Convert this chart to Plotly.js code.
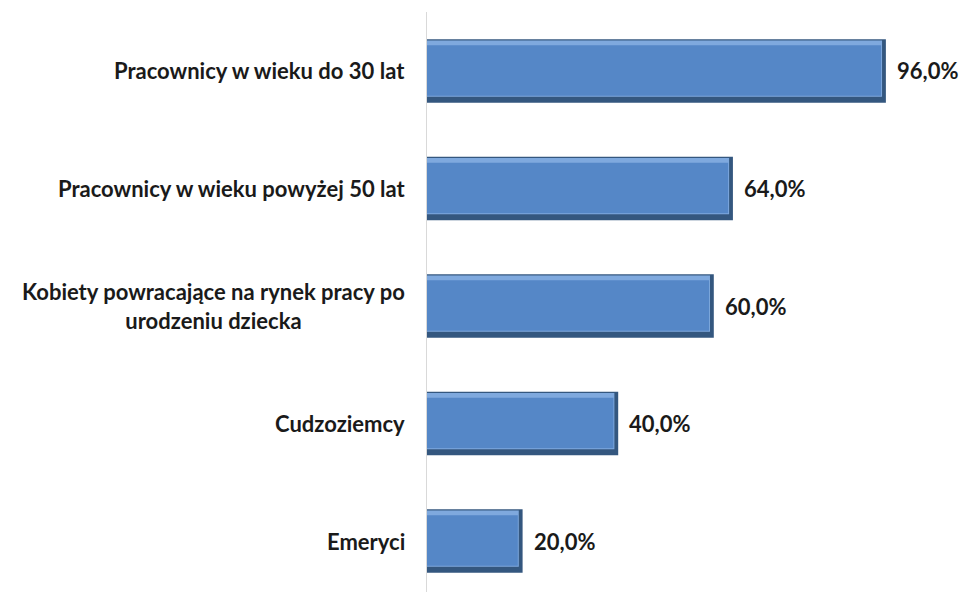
<!DOCTYPE html>
<html>
<head>
<meta charset="utf-8">
<script src="https://cdn.plot.ly/plotly-3.0.1.min.js"></script>
<style>html,body{margin:0;padding:0;background:#fff;}#chart{width:967px;height:592px;}</style>
</head>
<body>
<div id="chart"></div>
<script>
const categories = [
  "Emeryci",
  "Cudzoziemcy",
  "Kobiety powracające na rynek pracy po<br>urodzeniu dziecka",
  "Pracownicy w wieku powyżej 50 lat",
  "Pracownicy w wieku do 30 lat"
];
const values = [20.0, 40.0, 60.0, 64.0, 96.0];
const valueLabels = values.map(v => v.toFixed(1).replace('.', ',') + '%');

const FAM = "Lato, Open Sans, sans-serif";
const FS = 22;

const traces = [
  { // dark outer edge
    type: 'bar', orientation: 'h', y: categories, x: values, width: 0.54,
    marker: {color: '#34577f'}, hoverinfo: 'skip'
  },
  { // light upper bevel
    type: 'bar', orientation: 'h', y: categories, x: values.map(v => v - 0.8), width: 0.48, offset: -0.22,
    marker: {color: '#7fa9de'}, hoverinfo: 'skip'
  },
  { // main face
    type: 'bar', orientation: 'h', y: categories, x: values.map(v => v - 1.0), width: 0.43, offset: -0.21,
    marker: {color: '#5587c7'}, hoverinfo: 'skip'
  }
];

const catAnn = categories.map(c => ({
  xref: 'paper', yref: 'y', x: 0, y: c, xshift: -20,
  xanchor: 'right', yanchor: 'middle', align: 'center',
  text: c, showarrow: false,
  font: {family: FAM, size: FS, color: '#1a1a1a', weight: 'bold'}
}));
const valAnn = values.map((v, i) => ({
  xref: 'x', yref: 'y', x: v, y: categories[i], xshift: 9,
  xanchor: 'left', yanchor: 'middle',
  text: valueLabels[i], showarrow: false,
  font: {family: FAM, size: FS, color: '#1a1a1a', weight: 'bold'}
}));

const layout = {
  width: 967, height: 592,
  margin: {l: 427, r: 62, t: 12, b: 0},
  paper_bgcolor: '#ffffff', plot_bgcolor: '#ffffff',
  barmode: 'overlay',
  showlegend: false,
  xaxis: {range: [0, 100], visible: false, fixedrange: true},
  yaxis: {
    type: 'category', range: [-0.434, 4.502],
    showline: true, linecolor: '#d9d9d9', linewidth: 1.5,
    showgrid: false, zeroline: false, ticks: '', showticklabels: false
  },
  annotations: catAnn.concat(valAnn)
};

Plotly.newPlot('chart', traces, layout, {staticPlot: true});
</script>
</body>
</html>
